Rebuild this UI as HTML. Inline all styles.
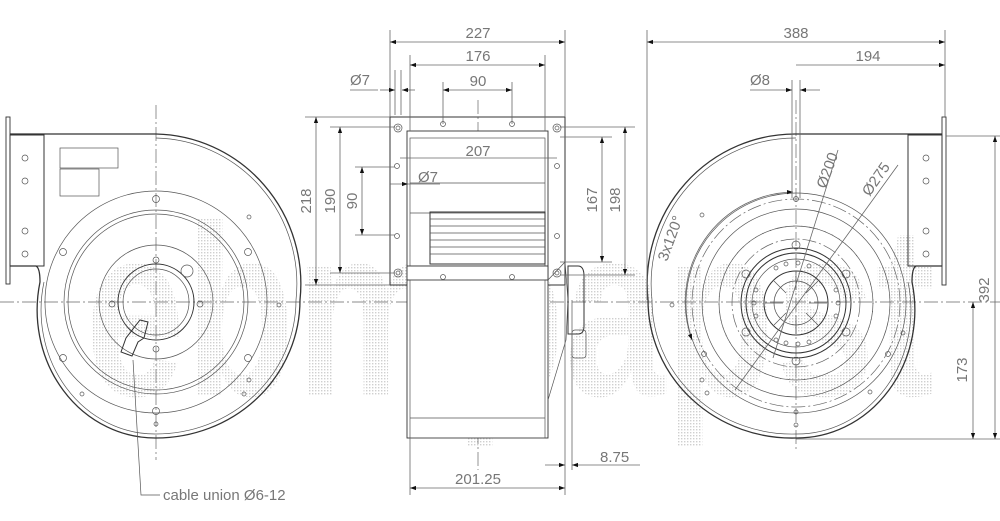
<!DOCTYPE html>
<html><head><meta charset="utf-8"><style>
html,body{margin:0;padding:0;background:#fff;}
svg{display:block;font-family:"Liberation Sans",sans-serif;}
.l{stroke:#333;fill:none;stroke-width:1}
.t{stroke:#555;fill:none;stroke-width:0.7}
.c{stroke:#666;fill:none;stroke-width:0.7;stroke-dasharray:14 3 2 3}
.d{stroke:#666;fill:none;stroke-width:0.8}
.tx{fill:#777;font-size:15px;}
.h{stroke:#333;fill:#fff;stroke-width:0.9}
</style></head><body>
<svg width="1000" height="521" viewBox="0 0 1000 521" xmlns="http://www.w3.org/2000/svg">
<defs>
<pattern id="dp" width="3" height="3" patternUnits="userSpaceOnUse"><rect width="1.4" height="1.4" fill="#cfcfcf"/></pattern>
<marker id="a" viewBox="0 0 10 10" refX="10" refY="5" markerWidth="9" markerHeight="6" orient="auto-start-reverse" markerUnits="userSpaceOnUse"><path d="M0,1.5 L10,5 L0,8.5z" fill="#111"/></marker>
</defs>

<text x="85" y="395" font-size="245" font-weight="bold" fill="url(#dp)" textLength="850" lengthAdjust="spacingAndGlyphs">ebmpapst</text>

<line class="c" x1="0" y1="302" x2="1000" y2="302"/>
<line class="c" x1="156" y1="105" x2="156" y2="460"/>
<line class="c" x1="478" y1="100" x2="478" y2="470"/>
<line class="c" x1="796" y1="100" x2="796" y2="450"/>

<g>
<rect class="h" x="6" y="117" width="4" height="167"/>
<path class="l" d="M10,134 H156 A148,150 0 0 1 300,300 A144,138 0 0 1 156,438 A118,128 0 0 1 40,282 Q40,268 36,266 H10" style="stroke-width:1.3"/>
<path class="t" d="M156,138 A144,146 0 0 1 296,300 A140,134 0 0 1 156,434 A114,124 0 0 1 44,282"/>
<rect class="l" x="10" y="135" width="34" height="131"/>
<circle class="t" cx="25" cy="158" r="3"/><circle class="t" cx="25" cy="181" r="3"/>
<circle class="t" cx="25" cy="231" r="3"/><circle class="t" cx="25" cy="254" r="3"/>
<rect class="t" x="60" y="148" width="58" height="20"/>
<rect class="t" x="60" y="169" width="39" height="27"/>
<circle class="t" cx="156" cy="302" r="111"/>
<circle class="t" cx="156" cy="302" r="92"/>
<circle class="t" cx="156" cy="302" r="88"/>
<circle class="t" cx="156" cy="302" r="57"/>
<circle class="l" cx="156" cy="302" r="38"/>
<circle class="t" cx="156" cy="302" r="33"/>
<g class="t">
<circle cx="156" cy="199" r="3.5"/><circle cx="156" cy="411" r="3.5"/>
<circle cx="63" cy="252" r="3.5"/><circle cx="248" cy="252" r="3.5"/>
<circle cx="63" cy="358" r="3.5"/><circle cx="248" cy="358" r="3.5"/>
<circle cx="156" cy="260" r="3"/><circle cx="156" cy="349" r="3"/>
<circle cx="112" cy="304" r="3"/><circle cx="200" cy="304" r="3"/>
<circle cx="249" cy="217" r="2"/><circle cx="279" cy="305" r="2"/>
<circle cx="249" cy="380" r="2"/><circle cx="244" cy="394" r="2"/>
<circle cx="82" cy="394" r="2"/><circle cx="156" cy="424" r="2"/>
<circle cx="187" cy="271" r="6"/>
</g>
<path class="l" d="M140,320 L148,322 L144,338 L138,342 L132,356 L121,352 L126,338 Z"/>
<polyline class="t" points="133,360 141,495 160,495"/>
<text class="tx" x="163" y="500">cable union Ø6-12</text>
</g>

<g>
<rect class="l" x="390" y="117" width="175" height="168"/>
<rect class="h" x="407" y="131" width="141" height="307"/>
<rect class="t" x="410" y="138" width="135" height="128"/>
<line class="t" x1="410" y1="183" x2="545" y2="183"/>
<line class="t" x1="410" y1="213" x2="545" y2="213"/>
<rect class="l" x="430" y="212" width="115" height="52"/>
<g class="t"><line x1="430" y1="219" x2="545" y2="219"/><line x1="430" y1="226" x2="545" y2="226"/><line x1="430" y1="233" x2="545" y2="233"/><line x1="430" y1="240" x2="545" y2="240"/><line x1="430" y1="247" x2="545" y2="247"/><line x1="430" y1="254" x2="545" y2="254"/></g>
<rect class="h" x="407" y="266" width="141" height="14"/>
<rect class="t" x="410" y="280" width="135" height="158"/>
<line class="t" x1="410" y1="418" x2="545" y2="418"/>
<path class="t" d="M548,280 L565,262 L568,300 L566,340 L548,400"/>
<path class="l" d="M568,266 h10 q6,0 6,10 v50 q0,8 -6,8 h-10z"/>
<rect class="t" x="572" y="330" width="14" height="28" rx="3"/>
<g class="t">
<circle cx="398" cy="128" r="4"/><circle cx="557" cy="128" r="4"/>
<circle cx="398" cy="273" r="4"/><circle cx="557" cy="273" r="4"/>
<circle cx="398" cy="128" r="2"/><circle cx="557" cy="128" r="2"/>
<circle cx="398" cy="273" r="2"/><circle cx="557" cy="273" r="2"/>
<circle cx="443" cy="124" r="2.5"/><circle cx="512" cy="124" r="2.5"/>
<circle cx="443" cy="277" r="2.5"/><circle cx="512" cy="277" r="2.5"/>
<circle cx="397" cy="166" r="2.5"/><circle cx="557" cy="166" r="2.5"/>
<circle cx="397" cy="236" r="2.5"/><circle cx="557" cy="236" r="2.5"/>
</g>
<g class="d">
<line x1="390" y1="30" x2="390" y2="117"/><line x1="565" y1="30" x2="565" y2="117"/>
<line x1="410" y1="55" x2="410" y2="131"/><line x1="545" y1="55" x2="545" y2="131"/>
<line x1="443" y1="82" x2="443" y2="124"/><line x1="512" y1="82" x2="512" y2="124"/>
<line x1="390" y1="42" x2="565" y2="42" marker-start="url(#a)" marker-end="url(#a)"/>
<line x1="410" y1="65" x2="545" y2="65" marker-start="url(#a)" marker-end="url(#a)"/>
<line x1="443" y1="90" x2="512" y2="90" marker-start="url(#a)" marker-end="url(#a)"/>
<line x1="380" y1="90" x2="395" y2="90" marker-end="url(#a)"/><line x1="415" y1="90" x2="402" y2="90" marker-end="url(#a)"/>
<line x1="350" y1="90" x2="378" y2="90"/><line x1="395" y1="70" x2="395" y2="115"/><line x1="401" y1="70" x2="401" y2="115"/>
<line x1="400" y1="158" x2="557" y2="158"/>
<line x1="390" y1="184" x2="408" y2="184" marker-end="url(#a)"/><line x1="408" y1="184" x2="440" y2="184"/>
<line x1="305" y1="117" x2="390" y2="117"/><line x1="330" y1="127" x2="395" y2="127"/><line x1="355" y1="167" x2="395" y2="167"/>
<line x1="305" y1="285" x2="390" y2="285"/><line x1="330" y1="273" x2="395" y2="273"/><line x1="355" y1="235" x2="395" y2="235"/>
<line x1="316" y1="117" x2="316" y2="285" marker-start="url(#a)" marker-end="url(#a)"/>
<line x1="340" y1="127" x2="340" y2="273" marker-start="url(#a)" marker-end="url(#a)"/>
<line x1="362" y1="167" x2="362" y2="235" marker-start="url(#a)" marker-end="url(#a)"/>
<line x1="560" y1="137" x2="612" y2="137"/><line x1="560" y1="127" x2="635" y2="127"/><line x1="560" y1="262" x2="612" y2="262"/><line x1="560" y1="275" x2="635" y2="275"/>
<line x1="602" y1="137" x2="602" y2="262" marker-start="url(#a)" marker-end="url(#a)"/>
<line x1="625" y1="127" x2="625" y2="275" marker-start="url(#a)" marker-end="url(#a)"/>
<line x1="565" y1="285" x2="565" y2="495"/><line x1="572" y1="300" x2="572" y2="470"/><line x1="410" y1="438" x2="410" y2="495"/>
<line x1="545" y1="465" x2="565" y2="465" marker-end="url(#a)"/><line x1="592" y1="465" x2="572" y2="465" marker-end="url(#a)"/><line x1="592" y1="465" x2="640" y2="465"/>
<line x1="410" y1="488" x2="565" y2="488" marker-start="url(#a)" marker-end="url(#a)"/>
</g>
<text class="tx" x="478" y="38" text-anchor="middle">227</text>
<text class="tx" x="478" y="61" text-anchor="middle">176</text>
<text class="tx" x="478" y="86" text-anchor="middle">90</text>
<text class="tx" x="350" y="85">Ø7</text>
<text class="tx" x="478" y="156" text-anchor="middle">207</text>
<text class="tx" x="418" y="182">Ø7</text>
<text class="tx" transform="translate(311,201) rotate(-90)" text-anchor="middle">218</text>
<text class="tx" transform="translate(335,201) rotate(-90)" text-anchor="middle">190</text>
<text class="tx" transform="translate(357,201) rotate(-90)" text-anchor="middle">90</text>
<text class="tx" transform="translate(597,200) rotate(-90)" text-anchor="middle">167</text>
<text class="tx" transform="translate(620,200) rotate(-90)" text-anchor="middle">198</text>
<text class="tx" x="600" y="462">8.75</text>
<text class="tx" x="478" y="484" text-anchor="middle">201.25</text>
</g>

<g>
<rect class="h" x="942" y="117" width="4" height="168"/>
<path class="l" d="M942,134 H796 A148,150 0 0 0 648,300 A144,138 0 0 0 796,438 A118,128 0 0 0 912,282 Q912,268 916,266 H942" style="stroke-width:1.3"/>
<path class="t" d="M796,138 A144,146 0 0 0 652,300 A140,134 0 0 0 796,434 A114,124 0 0 0 908,282"/>
<rect class="l" x="908" y="135" width="34" height="131"/>
<circle class="t" cx="926" cy="158" r="3"/><circle class="t" cx="926" cy="181" r="3"/>
<circle class="t" cx="926" cy="231" r="3"/><circle class="t" cx="926" cy="254" r="3"/>
<circle class="t" cx="796" cy="303" r="110"/>
<circle class="c" cx="796" cy="303" r="104"/>
<circle class="t" cx="796" cy="303" r="94"/>
<circle class="t" cx="796" cy="303" r="77" stroke-dasharray="1 7"/>
<circle class="t" cx="796" cy="303" r="77"/>
<circle class="c" cx="796" cy="303" r="64"/>
<circle class="l" cx="796" cy="303" r="55"/>
<circle class="l" cx="796" cy="303" r="50"/>
<circle class="t" cx="796" cy="303" r="44"/>
<circle class="l" cx="796" cy="303" r="32"/>
<circle class="t" cx="796" cy="303" r="22"/>
<g class="t">
<line x1="796" y1="272" x2="796" y2="290"/><line x1="796" y1="316" x2="796" y2="334"/>
<line x1="765" y1="303" x2="783" y2="303"/><line x1="809" y1="303" x2="827" y2="303"/>
<line x1="774" y1="281" x2="786" y2="293"/><line x1="806" y1="313" x2="818" y2="325"/>
<line x1="818" y1="281" x2="806" y2="293"/><line x1="786" y1="313" x2="774" y2="325"/>
<circle cx="796" cy="245" r="4"/><circle cx="796" cy="361" r="4"/>
<circle cx="746" cy="274" r="4"/><circle cx="846" cy="274" r="4"/>
<circle cx="746" cy="332" r="4"/><circle cx="846" cy="332" r="4"/>
<circle cx="796" cy="199" r="2.5"/><circle cx="704" cy="354" r="2.5"/><circle cx="888" cy="354" r="2.5"/>
<circle cx="702" cy="215" r="2"/><circle cx="672" cy="305" r="2"/><circle cx="702" cy="380" r="2"/>
<circle cx="707" cy="393" r="2"/><circle cx="870" cy="392" r="2"/><circle cx="903" cy="333" r="2"/>
<circle cx="796" cy="412" r="2"/><circle cx="796" cy="425" r="2"/>
</g>
<g class="t">
<circle cx="776" cy="268" r="2"/><circle cx="786" cy="264" r="2"/><circle cx="798" cy="263" r="2"/><circle cx="809" cy="266" r="2"/>
<circle cx="776" cy="340" r="2"/><circle cx="786" cy="343" r="2"/><circle cx="798" cy="344" r="2"/><circle cx="809" cy="342" r="2"/>
<circle cx="756" cy="290" r="2"/><circle cx="754" cy="303" r="2"/><circle cx="756" cy="316" r="2"/>
<circle cx="836" cy="290" r="2"/><circle cx="838" cy="303" r="2"/><circle cx="836" cy="316" r="2"/>
</g>
<g class="d">
<line x1="838" y1="150" x2="773" y2="358"/>
<line x1="898" y1="165" x2="735" y2="390"/>
<path d="M793,192 A110,110 0 0 0 692,340" marker-start="url(#a)" marker-end="url(#a)"/>
<line x1="647" y1="30" x2="647" y2="300"/><line x1="945" y1="30" x2="945" y2="117"/>
<line x1="647" y1="42" x2="945" y2="42" marker-start="url(#a)" marker-end="url(#a)"/>
<line x1="796" y1="65" x2="945" y2="65" marker-end="url(#a)"/>
<line x1="792" y1="80" x2="792" y2="198"/><line x1="800" y1="80" x2="800" y2="198"/>
<line x1="750" y1="90" x2="792" y2="90" marker-end="url(#a)"/><line x1="820" y1="90" x2="800" y2="90" marker-end="url(#a)"/>
<line x1="946" y1="136" x2="1000" y2="136"/><line x1="796" y1="439" x2="1000" y2="439"/>
<line x1="995" y1="136" x2="995" y2="439" marker-start="url(#a)" marker-end="url(#a)"/>
<line x1="973" y1="302" x2="973" y2="439" marker-start="url(#a)" marker-end="url(#a)"/>
</g>
<text class="tx" x="796" y="38" text-anchor="middle">388</text>
<text class="tx" x="868" y="61" text-anchor="middle">194</text>
<text class="tx" x="750" y="85">Ø8</text>
<text class="tx" transform="translate(832,172) rotate(-70)" text-anchor="middle">Ø200</text>
<text class="tx" transform="translate(880,182) rotate(-55)" text-anchor="middle">Ø275</text>
<text class="tx" transform="translate(675,240) rotate(-70)" text-anchor="middle">3x120°</text>
<text class="tx" transform="translate(989,290) rotate(-90)" text-anchor="middle">392</text>
<text class="tx" transform="translate(967,370) rotate(-90)" text-anchor="middle">173</text>
</g>
</svg>
</body></html>
